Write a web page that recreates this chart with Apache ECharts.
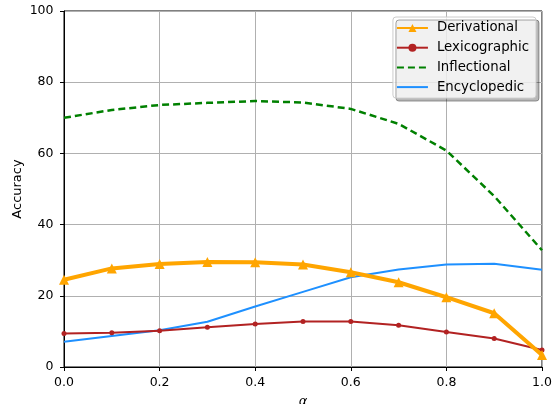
<!DOCTYPE html>
<html>
<head>
<meta charset="utf-8">
<script src="https://cdn.jsdelivr.net/npm/echarts@6/dist/echarts.min.js"></script>
<style>
  html, body { margin: 0; padding: 0; background: #fff; }
  #chart { width: 555px; height: 404px; }
</style>
</head>
<body>
<div id="chart"></div>
<script>
// x 轴 α 取值
const alphas = [0, 0.1, 0.2, 0.3, 0.4, 0.5, 0.6, 0.7, 0.8, 0.9, 1.0]
const derivational = [24.5, 27.7, 28.9, 29.5, 29.4, 28.8, 26.6, 23.8, 19.6, 15.1, 3.4]
const lexicographic = [9.4, 9.6, 10.2, 11.2, 12.1, 12.8, 12.8, 11.7, 9.8, 8.0, 4.8]
const inflectional = [70.0, 72.2, 73.6, 74.2, 74.7, 74.3, 72.5, 68.3, 60.8, 48.0, 32.8]
const encyclopedic = [7.1, 8.7, 10.3, 12.7, 17.0, 21.1, 25.2, 27.4, 28.8, 29.0, 27.3]

const pairs = arr => alphas.map((a, i) => [a, arr[i]])
const font = '"DejaVu Sans", sans-serif'

const chart = echarts.init(document.getElementById('chart'), null, { renderer: 'canvas' })

chart.setOption({
  animation: false,
  backgroundColor: '#fff',
  textStyle: { fontFamily: font },
  grid: {
    left: 64, right: 13, top: 11, bottom: 37,
    outerBoundsMode: 'none', containLabel: false,
    show: true, borderColor: '#000', borderWidth: 1, backgroundColor: 'transparent'
  },
  legend: {
    right: 19, top: 17,
    orient: 'vertical',
    itemWidth: 31, itemHeight: 10, itemGap: 3.7,
    padding: [3, 7, 3, 3],
    backgroundColor: 'rgba(255,255,255,0.8)',
    borderColor: '#ccc', borderWidth: 1, borderRadius: 3,
    shadowColor: 'rgba(0,0,0,0.35)', shadowOffsetX: 3, shadowOffsetY: 3, shadowBlur: 0,
    textStyle: { fontFamily: font, fontSize: 13.3, color: '#000', lineHeight: 16, padding: [0, 0, 0, 4] },
    data: [
      'Derivational',
      'Lexicographic',
      { name: 'Inflectional', itemStyle: { opacity: 0 } },
      { name: 'Encyclopedic', itemStyle: { opacity: 0 } }
    ]
  },
  xAxis: {
    type: 'value', min: 0, max: 1, interval: 0.2,
    name: 'α', nameLocation: 'middle', nameGap: 28,
    nameTextStyle: { fontFamily: font, fontSize: 13, fontStyle: 'italic', color: '#000' },
    axisLine: { show: true, lineStyle: { color: '#000', width: 1 } },
    axisTick: { show: true, length: 4, lineStyle: { color: '#000' } },
    axisLabel: { color: '#000', fontSize: 12.5, margin: 9, formatter: v => v.toFixed(1) },
    splitLine: { show: true, lineStyle: { color: '#b0b0b0', width: 1 } }
  },
  yAxis: {
    type: 'value', min: 0, max: 100, interval: 20,
    name: 'Accuracy', nameLocation: 'middle', nameGap: 39.5, nameMoveOverlap: false,
    nameTextStyle: { fontFamily: font, fontSize: 13, color: '#000' },
    axisLine: { show: true, lineStyle: { color: '#000', width: 1 } },
    axisTick: { show: true, length: 4, lineStyle: { color: '#000' } },
    axisLabel: { color: '#000', fontSize: 12.5, margin: 10.5 },
    splitLine: { show: true, lineStyle: { color: '#b0b0b0', width: 1 } }
  },
  series: [
    {
      name: 'Inflectional', type: 'line', data: pairs(inflectional),
      symbol: 'none', z: 2,
      lineStyle: { color: '#008000', width: 2.5, type: [7, 4] },
      itemStyle: { color: '#008000' }
    },
    {
      name: 'Encyclopedic', type: 'line', data: pairs(encyclopedic),
      symbol: 'none', z: 3,
      lineStyle: { color: '#1e90ff', width: 2 },
      itemStyle: { color: '#1e90ff' }
    },
    {
      name: 'Lexicographic', type: 'line', data: pairs(lexicographic),
      symbol: 'circle', symbolSize: 5, z: 4,
      lineStyle: { color: '#b22222', width: 2 },
      itemStyle: { color: '#b22222' }
    },
    {
      name: 'Derivational', type: 'line', data: pairs(derivational),
      symbol: 'triangle', symbolSize: 10, z: 5,
      lineStyle: { color: '#ffa500', width: 4 },
      itemStyle: { color: '#ffa500' }
    }
  ]
})
</script>
</body>
</html>
